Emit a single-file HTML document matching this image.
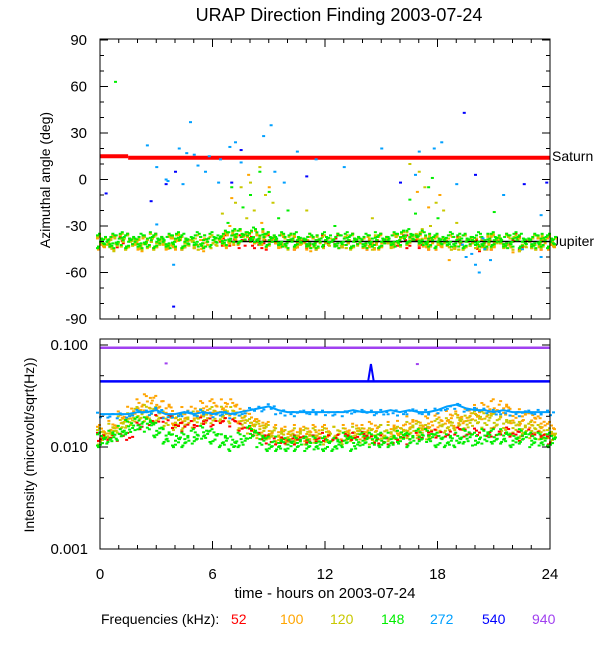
<!DOCTYPE html>
<html><head><meta charset="utf-8"><style>
body{margin:0;background:#fff}
svg{display:block;font-family:"Liberation Sans",sans-serif}
</style></head><body>
<svg id="c" width="600" height="650" viewBox="0 0 600 650">
<text x="339" y="21" font-size="18" text-anchor="middle">URAP Direction Finding  2003-07-24</text>
<text transform="translate(50,180) rotate(-90)" font-size="14" text-anchor="middle">Azimuthal angle (deg)</text>
<text transform="translate(34,445) rotate(-90)" font-size="14" text-anchor="middle">Intensity (microvolt/sqrt(Hz))</text>
<text x="325" y="598" font-size="15" text-anchor="middle">time - hours on 2003-07-24</text>
<text x="552" y="161" font-size="14">Saturn</text>
<text x="552" y="246" font-size="14">Jupiter</text>
<g font-size="14">
<text x="101" y="624" fill="#000">Frequencies (kHz):</text>
<text x="231" y="624" fill="#ff0000">52</text>
<text x="280" y="624" fill="#ffa500">100</text>
<text x="330" y="624" fill="#c8c800">120</text>
<text x="381" y="624" fill="#00ee00">148</text>
<text x="430" y="624" fill="#00a0ff">272</text>
<text x="482" y="624" fill="#0000ff">540</text>
<text x="532" y="624" fill="#a040f0">940</text>
</g>
</svg>
<script>
// ---- data ----
const hours = [0,6,12,18,24];
const angleTicks = [90,60,30,0,-30,-60,-90];
const intensityTicks = [0.1,0.01,0.001];
const intensityTickLabels = ["0.100","0.010","0.001"];
const saturnSegments = [[0,1.5,15],[1.5,24,14]];
const jupiterModel = [[7,24,-40]];
const band52  = [-40,-40,-40,-39,-40,-39,-39,-40,-39,-40,-40,-39,-40,-40,-39,-40,-39,-40,-40,-40,-39,-40,-40,-40,-39,-40,-40,-39,-40,-40,-39,-40,-40,-39,-40,-40,-41,-40,-40,-40,-41,-40,-40,-40,-39,-40,-40,-40,-41];
const band100 = [-41,-40,-39,-40,-41,-39,-40,-41,-40,-39,-40,-41,-40,-39,-38,-37,-36,-38,-39,-40,-39,-40,-41,-39,-40,-39,-40,-39,-40,-41,-40,-39,-38,-37,-38,-40,-41,-40,-41,-40,-40,-41,-40,-39,-40,-41,-40,-40,-41];
const band120 = [-40,-41,-39,-40,-40,-39,-40,-40,-39,-40,-40,-39,-40,-38,-37,-36,-35,-37,-38,-39,-40,-39,-39,-40,-40,-39,-40,-40,-39,-40,-39,-40,-38,-37,-36,-39,-40,-40,-41,-40,-40,-40,-39,-40,-40,-41,-40,-39,-40];
const band148 = [-39,-39,-38,-39,-39,-38,-39,-39,-38,-39,-38,-39,-38,-37,-36,-36,-35,-36,-38,-38,-39,-38,-39,-39,-38,-39,-38,-39,-39,-38,-39,-38,-37,-36,-37,-38,-39,-38,-39,-39,-38,-39,-38,-39,-38,-39,-39,-38,-39];
const out272 = [[2.5,22],[3.0,8],[3.0,-29],[3.5,0],[3.6,-1],[3.9,-55],[4.2,20],[4.4,-3],[4.6,17],[4.8,37],[5.0,16],[5.2,9],[5.6,5],[5.8,15],[6.3,-2],[6.4,13],[6.9,21],[7.2,24],[7.5,11],[8.7,28],[9.1,35],[9.3,5],[9.8,-2],[10.5,18],[11.5,13],[13,8],[15,20],[16.8,3],[17,18],[17.8,20],[18.2,24],[19,-3],[19.5,-50],[20,-55],[20.2,-60],[20.5,-45],[19.8,-48],[20.8,-52],[21.5,-10],[22.5,-45],[23.5,-50],[23.5,-23],[19.3,-42],[20.4,-38]];
const out540 = [[0.3,-9],[2.7,-14],[3.5,-3],[3.9,-82],[4.0,5],[7.0,-2],[7.5,19],[11,2],[16,-2],[19.4,43],[20,3],[22.6,-3],[23.8,-2]];
const out148 = [[0.8,63],[7,-5],[8,-10],[9,-8],[10,-20],[17.5,-5],[17.7,1],[16.5,-13],[18,-25],[8.5,5],[21,-21],[6.8,-28],[7.6,-18],[9.5,-25],[12.5,-30],[16.8,-22]];
const out120 = [[7.2,-15],[7.5,-5],[7.8,-25],[8.2,-20],[8.5,8],[8.8,-10],[9.2,-15],[16.5,10],[17,5],[17.3,-5],[17.9,-15],[18.3,-20],[6.5,-22],[11,-20],[14.5,-25],[8.0,-2],[17.6,-30],[19,-28]];
const out100 = [[7.0,-12],[7.9,3],[8.6,-28],[9.0,-5],[16.9,-8],[17.5,-18],[18.6,-52],[18.1,-10],[6.9,-30],[22,-47]];
const int52  = [0.013,0.013,0.013,0.013,0.016,0.018,0.019,0.020,0.017,0.016,0.017,0.018,0.018,0.019,0.018,0.016,0.014,0.013,0.012,0.012,0.012,0.012,0.012,0.012,0.013,0.013,0.013,0.013,0.013,0.012,0.012,0.012,0.013,0.012,0.013,0.014,0.014,0.014,0.015,0.014,0.014,0.014,0.014,0.015,0.014,0.013,0.014,0.013,0.012];
const int100 = [0.014,0.016,0.019,0.022,0.025,0.028,0.027,0.024,0.020,0.021,0.022,0.024,0.025,0.026,0.025,0.021,0.018,0.016,0.015,0.014,0.014,0.014,0.014,0.014,0.014,0.014,0.014,0.015,0.014,0.015,0.014,0.015,0.016,0.017,0.016,0.017,0.018,0.020,0.019,0.021,0.022,0.023,0.025,0.024,0.021,0.020,0.019,0.017,0.015];
const int120 = [0.013,0.015,0.017,0.019,0.021,0.022,0.021,0.019,0.018,0.018,0.019,0.020,0.021,0.022,0.021,0.018,0.016,0.015,0.014,0.013,0.013,0.013,0.013,0.013,0.013,0.014,0.013,0.014,0.013,0.013,0.014,0.014,0.014,0.015,0.015,0.014,0.016,0.017,0.018,0.018,0.019,0.019,0.018,0.017,0.016,0.015,0.015,0.014,0.013];
const int148 = [0.012,0.013,0.014,0.016,0.017,0.017,0.015,0.013,0.012,0.012,0.013,0.014,0.013,0.012,0.011,0.012,0.014,0.012,0.011,0.011,0.011,0.011,0.011,0.011,0.011,0.011,0.012,0.011,0.012,0.012,0.012,0.012,0.013,0.012,0.013,0.013,0.012,0.012,0.012,0.013,0.012,0.013,0.013,0.013,0.012,0.013,0.012,0.012,0.012];
const int272 = [0.021,0.021,0.021,0.021,0.022,0.022,0.023,0.021,0.021,0.022,0.021,0.022,0.021,0.022,0.021,0.022,0.023,0.024,0.025,0.023,0.022,0.022,0.022,0.022,0.022,0.022,0.022,0.023,0.022,0.022,0.022,0.023,0.022,0.023,0.022,0.022,0.023,0.025,0.026,0.024,0.023,0.023,0.022,0.023,0.022,0.022,0.022,0.022,0.022];
const int540 = [0.044,0.044,0.044,0.044,0.044,0.044,0.044,0.044,0.044,0.044,0.044,0.044,0.044,0.044,0.044,0.044,0.044,0.044,0.044,0.044,0.044,0.044,0.044,0.044,0.044,0.044,0.044,0.044,0.044,0.044,0.044,0.044,0.044,0.044,0.044,0.044,0.044,0.044,0.044,0.044,0.044,0.044,0.044,0.044,0.044,0.044,0.044,0.044,0.044];
const spike540Hours = [14.3,14.45,14.6];
const spike540Values = [0.044,0.065,0.044];
const int940 = [0.094,0.094,0.094,0.094,0.094,0.094,0.094,0.094,0.094,0.094,0.094,0.094,0.094,0.094,0.094,0.094,0.094,0.094,0.094,0.094,0.094,0.094,0.094,0.094,0.094,0.094,0.094,0.094,0.094,0.094,0.094,0.094,0.094,0.094,0.094,0.094,0.094,0.094,0.094,0.094,0.094,0.094,0.094,0.094,0.094,0.094,0.094,0.094,0.094];
const out940 = [[3.5,0.066],[16.9,0.065]];

// ---- scales ----
const X0=100,X1=550,T0=39,T1=319,B0=339,B1=549;
const xs=h=>X0+h*(X1-X0)/24;
const ya=a=>179.5-a*1.55;
const yi=v=>345-(Math.log10(v)+1)*102;
const NS="http://www.w3.org/2000/svg";
const svgEl=document.getElementById('c');
function mk(tag,attrs,parent){const e=document.createElementNS(NS,tag);for(const k in attrs)e.setAttribute(k,attrs[k]);(parent||svgEl).appendChild(e);return e;}
const C={r:'#ff0000',o:'#ffa500',y:'#c8c800',g:'#00ee00',c:'#00a0ff',b:'#0000ff',p:'#a040f0'};
const dxs=[0,3,6,1,4,7,2,5,8,0,6,3];
const dys=[-7,4,-2,7,-5,1,-9,6,-3,9,3,-1];

const topG=mk('g',{});


saturnSegments.forEach(s=>{const l=mk('line',{x1:xs(s[0]),x2:xs(s[1]),y1:ya(s[2]),y2:ya(s[2]),stroke:C.r,'stroke-width':4},topG);

});
function band(arr,col,name,n){const g=mk('g',{fill:col},topG);


arr.forEach((v,i)=>{const bx=xs(i*0.5)-4;for(let k=0;k<n;k++){mk('rect',{x:bx+dxs[(k+i)%12],y:ya(v)+dys[(k*5+i)%12]*0.8,width:3,height:2},g);}});}
band(band52,C.r,'band-52khz',4);
band(band100,C.o,'band-100khz',8);
band(band120,C.y,'band-120khz',9);
jupiterModel.forEach(s=>{const l=mk('line',{x1:xs(s[0]),x2:xs(s[1]),y1:ya(s[2]),y2:ya(s[2]),stroke:'#000','stroke-width':1.5},topG);

});
band(band148,C.g,'band-148khz',11);
function pts(arr,col,name,yf,g){const gg=mk('g',{fill:col},g);


arr.forEach(p=>mk('rect',{x:xs(p[0])-1,y:yf(p[1])-1,width:3,height:2},gg));}
pts(out100,C.o,'outliers-100khz',ya,topG);
pts(out120,C.y,'outliers-120khz',ya,topG);
pts(out148,C.g,'outliers-148khz',ya,topG);
pts(out272,C.c,'outliers-272khz',ya,topG);
pts(out540,C.b,'outliers-540khz',ya,topG);

const botG=mk('g',{});


function iband(arr,col,name,n,sp){const g=mk('g',{fill:col},botG);


arr.forEach((v,i)=>{const bx=xs(i*0.5)-4;for(let k=0;k<n;k++){mk('rect',{x:bx+dxs[(k+i)%12],y:yi(v)+dys[(k*7+i)%12]*sp,width:3,height:2},g);}});}
function iline(arr,col,name,w){const d=arr.map((v,i)=>(i?'L':'M')+xs(i*0.5)+' '+yi(v)).join(' ');
const p=mk('path',{d:d,fill:'none',stroke:col,'stroke-width':w},botG);

}
iband(int100,C.o,'intensity-100khz',8,0.9);
iband(int120,C.y,'intensity-120khz',9,0.9);
iband(int52,C.r,'intensity-52khz',4,0.5);
iband(int148,C.g,'intensity-148khz',10,0.8);
iline(int272,C.c,'intensity-272khz',2);
iband(int272,C.c,'intensity-272khz-scatter',3,0.35);
iline(int540,C.b,'intensity-540khz',2.5);
const sp=mk('path',{d:spike540Hours.map((h,i)=>(i?'L':'M')+xs(h)+' '+yi(spike540Values[i])).join(' '),fill:'none',stroke:C.b,'stroke-width':2},botG);


iline(int940,C.p,'intensity-940khz',2.5);
pts(out940,C.p,'outliers-940khz',yi,botG);

const ax=mk('g',{stroke:'#000','stroke-width':1,fill:'none'});


[[T0,T1],[B0,B1]].forEach(([a,b])=>mk('rect',{x:X0,y:a,width:X1-X0,height:b-a},ax));
for(let h=0;h<=24;h++){const L=h%6==0?8:4;[[T0,1],[T1,-1],[B0,1],[B1,-1]].forEach(([y,s])=>mk('line',{x1:xs(h),x2:xs(h),y1:y,y2:y+s*L},ax));}
for(let a=-90;a<=90;a+=10){const L=a%30==0?8:4;mk('line',{x1:X0,x2:X0+L,y1:ya(a),y2:ya(a)},ax);mk('line',{x1:X1,x2:X1-L,y1:ya(a),y2:ya(a)},ax);}
intensityTicks.forEach(v=>{mk('line',{x1:X0,x2:X0+8,y1:yi(v),y2:yi(v)},ax);mk('line',{x1:X1,x2:X1-8,y1:yi(v),y2:yi(v)},ax);});
[0.05,0.02,0.005,0.002].forEach(v=>{mk('line',{x1:X0,x2:X0+4,y1:yi(v),y2:yi(v)},ax);mk('line',{x1:X1,x2:X1-4,y1:yi(v),y2:yi(v)},ax);});
angleTicks.forEach(a=>{const t=mk('text',{x:87,y:ya(a)+5,'font-size':15,'text-anchor':'end'});t.textContent=a;

});
intensityTicks.forEach((v,i)=>{const t=mk('text',{x:88,y:yi(v)+5,'font-size':15,'text-anchor':'end'});t.textContent=intensityTickLabels[i];

});
hours.forEach(h=>{const t=mk('text',{x:xs(h),y:579,'font-size':15,'text-anchor':'middle'});t.textContent=h;

});
</script>
</body></html>
